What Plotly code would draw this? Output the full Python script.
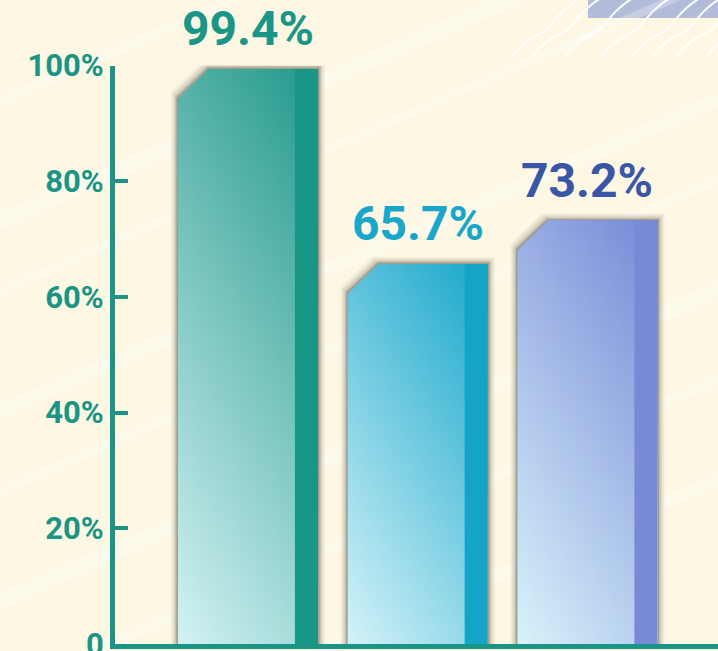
import plotly.graph_objects as go

# ---------------------------------------------------------
# Data
# ---------------------------------------------------------
categories = ["bar_1", "bar_2", "bar_3"]
values = [99.4, 65.7, 73.2]
value_labels = ["99.4%", "65.7%", "73.2%"]
y_tick_vals = [0, 20, 40, 60, 80, 100]
y_tick_text = ["0", "20%", "40%", "60%", "80%", "100%"]

# styles
grad_light = ["#d3f2f4", "#d4f3f8", "#d8f3fa"]   # 左下
grad_dark = ["#2a9c8f", "#22aacd", "#7b8dd8"]    # 右上
strip_colors = ["#189686", "#14a4c6", "#7889d6"]
label_colors = ["#1a9686", "#1aa6c9", "#3a56a6"]
AXIS_COLOR = "#1a9484"
BG_COLOR = "#fdf7e3"

W, H = 718, 651
BAR_W = 0.825
STRIP_W = 0.136
CUT_X = 0.185
CUT_Y = 5.2
PX_X = 169.75   # 每單位 x 的像素
PX_Y = 5.8      # 每單位 y 的像素
N_SLICES = 24   # 斜向漸層用的切片數
GRAD_A = 1.64   # 漸層方向（水平權重）


def hex_rgb(c):
    c = c.lstrip("#")
    return tuple(int(c[k:k + 2], 16) for k in (0, 2, 4))


def mix(c0, c1, t):
    a, b = hex_rgb(c0), hex_rgb(c1)
    return "rgb({},{},{})".format(*[round(a[k] + (b[k] - a[k]) * t) for k in range(3)])


def top_at(xp, left, v):
    """切角處的頂邊高度"""
    if xp >= left + CUT_X:
        return v
    return v - CUT_Y + (xp - left) / CUT_X * CUT_Y


def bar_outline(x, v, pad_x=0.0, pad_y=0.0):
    """柱體外框：左上角切角"""
    left = x - BAR_W / 2 - pad_x
    right = x + BAR_W / 2 + pad_x
    top = v + pad_y
    xs = [left, left, left + CUT_X, right, right, left]
    ys = [0, top - CUT_Y, top, top, 0, 0]
    return xs, ys


def px_path(points):
    """把像素座標轉成 paper 座標的 SVG path（背景裝飾用）"""
    out = []
    for cmd, pts in points:
        coords = " ".join(f"{px / W:.4f},{1 - py / H:.4f}" for px, py in pts)
        out.append(f"{cmd}{coords}")
    return " ".join(out)


fig = go.Figure()

positions = list(range(len(categories)))

for i, (x, v) in enumerate(zip(positions, values)):
    # soft shadow
    for pad_px, alpha in [(7, 0.06), (5, 0.10), (3, 0.16), (1.5, 0.25)]:
        sx, sy = bar_outline(x, v, pad_x=pad_px / PX_X, pad_y=pad_px / PX_Y)
        fig.add_trace(
            go.Scatter(
                x=sx, y=sy, mode="lines", fill="toself",
                fillcolor=f"rgba(60,55,45,{alpha})",
                line=dict(width=0), hoverinfo="skip", showlegend=False,
            )
        )

    # main body: diagonal gradient built from vertical-gradient slices
    left = x - BAR_W / 2
    right = x + BAR_W / 2
    body_w = BAR_W - STRIP_W
    body_px = body_w * PX_X
    h_px = v * PX_Y
    norm = GRAD_A * body_px + h_px
    for k in range(N_SLICES):
        xk = left + k * body_w / N_SLICES
        u = (k + 0.5) / N_SLICES
        t0 = GRAD_A * u * body_px / norm
        t1 = (GRAD_A * u * body_px + h_px) / norm
        xs = [xk, xk]
        ys = [0, top_at(xk, left, v)]
        if xk < left + CUT_X:
            xs.append(left + CUT_X)
            ys.append(v)
        xs += [right, right, xk]
        ys += [v, 0, 0]
        fig.add_trace(
            go.Scatter(
                x=xs, y=ys, mode="lines", fill="toself",
                fillgradient=dict(
                    type="vertical", start=0, stop=v,
                    colorscale=[[0, mix(grad_light[i], grad_dark[i], t0)],
                                [1, mix(grad_light[i], grad_dark[i], t1)]],
                ),
                line=dict(width=0), name=categories[i],
                hoverinfo="skip", showlegend=False,
            )
        )

    # dark side strip
    fig.add_trace(
        go.Scatter(
            x=[right - STRIP_W, right - STRIP_W, right, right, right - STRIP_W],
            y=[0, v, v, 0, 0],
            mode="lines", fill="toself", fillcolor=strip_colors[i],
            line=dict(width=0), name=categories[i], showlegend=False,
        )
    )

    fig.add_annotation(
        x=x, y=v, text=value_labels[i], showarrow=False,
        yanchor="bottom", yshift=10,
        font=dict(family="Roboto", size=48, color=label_colors[i], weight="bold"),
    )

# ---------------------------------------------------------
# Background decoration
# ---------------------------------------------------------
shapes = []
# blue band top right
shapes.append(dict(
    type="rect", xref="paper", yref="paper",
    x0=588 / W, x1=1.0, y0=1 - 18 / H, y1=1.0,
    fillcolor="#b2bbd8", line=dict(width=0), layer="below",
))
# faint diagonal streaks
for y0, wd in [(110, 10), (230, 16), (300, 8), (420, 14), (500, 9), (610, 16), (700, 10), (800, 12)]:
    shapes.append(dict(
        type="path", xref="paper", yref="paper",
        path=px_path([("M", [(-20, y0)]), ("L", [(740, y0 - 330)])]),
        line=dict(color="rgba(255,255,255,0.28)", width=wd), layer="below",
    ))
# wavy white lines top right
for sx in [512, 533, 565, 602, 632, 653, 677, 707]:
    shapes.append(dict(
        type="path", xref="paper", yref="paper",
        path=px_path([
            ("M", [(sx, 56)]),
            ("C", [(sx + 12, 38), (sx + 28, 36), (sx + 36, 28)]),
            ("S", [(sx + 52, 6), (sx + 72, -4)]),
        ]),
        line=dict(color="rgba(255,255,255,0.95)", width=2), layer="below",
    ))

fig.update_layout(
    width=W,
    height=H,
    margin=dict(l=0, r=0, t=0, b=0, autoexpand=False),
    paper_bgcolor=BG_COLOR,
    plot_bgcolor="rgba(0,0,0,0)",
    showlegend=False,
    shapes=shapes,
    xaxis=dict(
        domain=[115 / W, 1.0],
        range=[-0.7835, 2.769],
        showticklabels=False,
        showgrid=False,
        zeroline=False,
        showline=True,
        linecolor=AXIS_COLOR,
        linewidth=5,
        ticks="",
        automargin=False,
        fixedrange=True,
    ),
    yaxis=dict(
        domain=[7 / H, (H - 65.5) / H],
        range=[0, 100],
        tickvals=y_tick_vals,
        ticktext=y_tick_text,
        ticks="inside",
        ticklen=13,
        tickwidth=4,
        tickcolor=AXIS_COLOR,
        showgrid=False,
        zeroline=False,
        showline=True,
        linecolor=AXIS_COLOR,
        linewidth=5,
        tickfont=dict(family="Roboto", size=31, color=AXIS_COLOR, weight="bold"),
        ticklabeloverflow="allow",
        automargin=False,
        fixedrange=True,
    ),
)

fig.write_html(
    "out.html",
    config={"displayModeBar": False},
    post_script="document.body.style.margin='0';",
)
